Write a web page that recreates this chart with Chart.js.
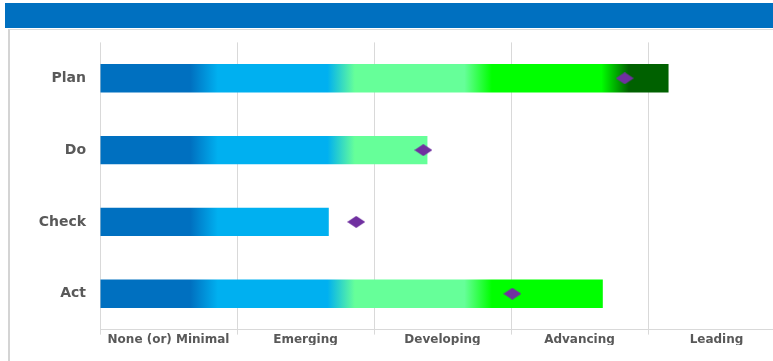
<!DOCTYPE html>
<html>
<head>
<meta charset="utf-8">
<script src="https://cdn.jsdelivr.net/npm/chart.js@4.4.1/dist/chart.umd.min.js"></script>
<style>
  html, body { margin: 0; padding: 0; background: #fff; overflow: hidden; width: 773px; height: 361px; }
  #banner { position: absolute; left: 5px; top: 3px; width: 800px; height: 25px; background: #0070C0; }
  #frame { position: absolute; left: 8px; top: 29px; width: 900px; height: 400px;
           border-top: 1px solid #dcdcdc; border-left: 2px solid #d4d4d4; }
  #wrap { position: absolute; left: 10px; top: 20px; width: 780px; height: 341px; }
</style>
</head>
<body>
<div id="banner"></div>
<div id="frame"></div>
<div id="wrap"><canvas id="pdca"></canvas></div>
<script>
document.addEventListener("DOMContentLoaded", () => {
    // phases and maturity levels
    let phases = ["Plan", "Do", "Check", "Act"];
    let levels = ["None (or) Minimal", "Emerging", "Developing", "Advancing", "Leading"];

    // bar = current score, diamond = target (0..5 scale)
    let scores = [4.15, 2.39, 1.67, 3.67];
    let targets = [3.83, 2.36, 1.87, 3.01];

    // band colours, left to right
    let bandColors = ["#0070C0", "#00B0F0", "#66FF99", "#00FF00", "#006100"];

    // diamond marker
    let dia = document.createElement("canvas");
    dia.width = 18;
    dia.height = 12;
    let dctx = dia.getContext("2d");
    dctx.fillStyle = "#7030A0";
    dctx.beginPath();
    dctx.moveTo(0, 6);
    dctx.lineTo(9, 0);
    dctx.lineTo(18, 6);
    dctx.lineTo(9, 12);
    dctx.closePath();
    dctx.fill();

    function barGradient(context) {
        let chart = context.chart;
        if (!chart.chartArea) return bandColors[0];
        let xs = chart.scales.x;
        let x0 = xs.getPixelForValue(0);
        let x1 = xs.getPixelForValue(levels.length);
        let g = chart.ctx.createLinearGradient(x0, 0, x1, 0);
        let n = levels.length;
        bandColors.forEach((c, i) => {
            if (i > 0) g.addColorStop((i - 1 + 0.86) / n, c);
            if (i < n - 1) g.addColorStop((i + 0.66) / n, c);
            else g.addColorStop(1, c);
        });
        return g;
    }

    let ctx = document.getElementById("pdca").getContext("2d");

    new Chart(ctx, {
        data: {
            labels: phases,
            datasets: [
                {
                    type: "line",
                    indexAxis: "y",
                    data: targets,
                    showLine: false,
                    pointStyle: dia,
                    order: 0
                },
                {
                    type: "bar",
                    data: scores,
                    backgroundColor: barGradient,
                    borderWidth: 0,
                    categoryPercentage: 1,
                    barPercentage: 0.395,
                    order: 1
                }
            ]
        },
        options: {
            indexAxis: "y",
            responsive: true,
            maintainAspectRatio: false,
            animation: false,
            layout: { padding: { top: 1, right: 4, bottom: 16, left: 0 } },
            plugins: {
                legend: { display: false },
                tooltip: { enabled: false }
            },
            scales: {
                x: {
                    type: "linear",
                    min: 0,
                    max: levels.length,
                    border: { color: "#d9d9d9" },
                    grid: {
                        color: c => (c.tick && c.tick.value % 1 === 0) ? "#d9d9d9" : "rgba(0,0,0,0)",
                        tickLength: 5
                    },
                    ticks: {
                        stepSize: 0.5,
                        autoSkip: false,
                        maxRotation: 0,
                        minRotation: 0,
                        padding: -2,
                        color: "#595959",
                        font: { family: "DejaVu Sans", size: 12, weight: "bold" },
                        callback: v => (v % 1 === 0.5) ? levels[Math.floor(v)] : ""
                    }
                },
                y: {
                    border: { display: false },
                    grid: { display: false, drawTicks: false },
                    ticks: {
                        padding: 14,
                        color: "#595959",
                        font: { family: "DejaVu Sans", size: 14, weight: "bold" }
                    },
                    afterFit: s => { s.width = 90; }
                }
            }
        }
    });
});
</script>
</body>
</html>
